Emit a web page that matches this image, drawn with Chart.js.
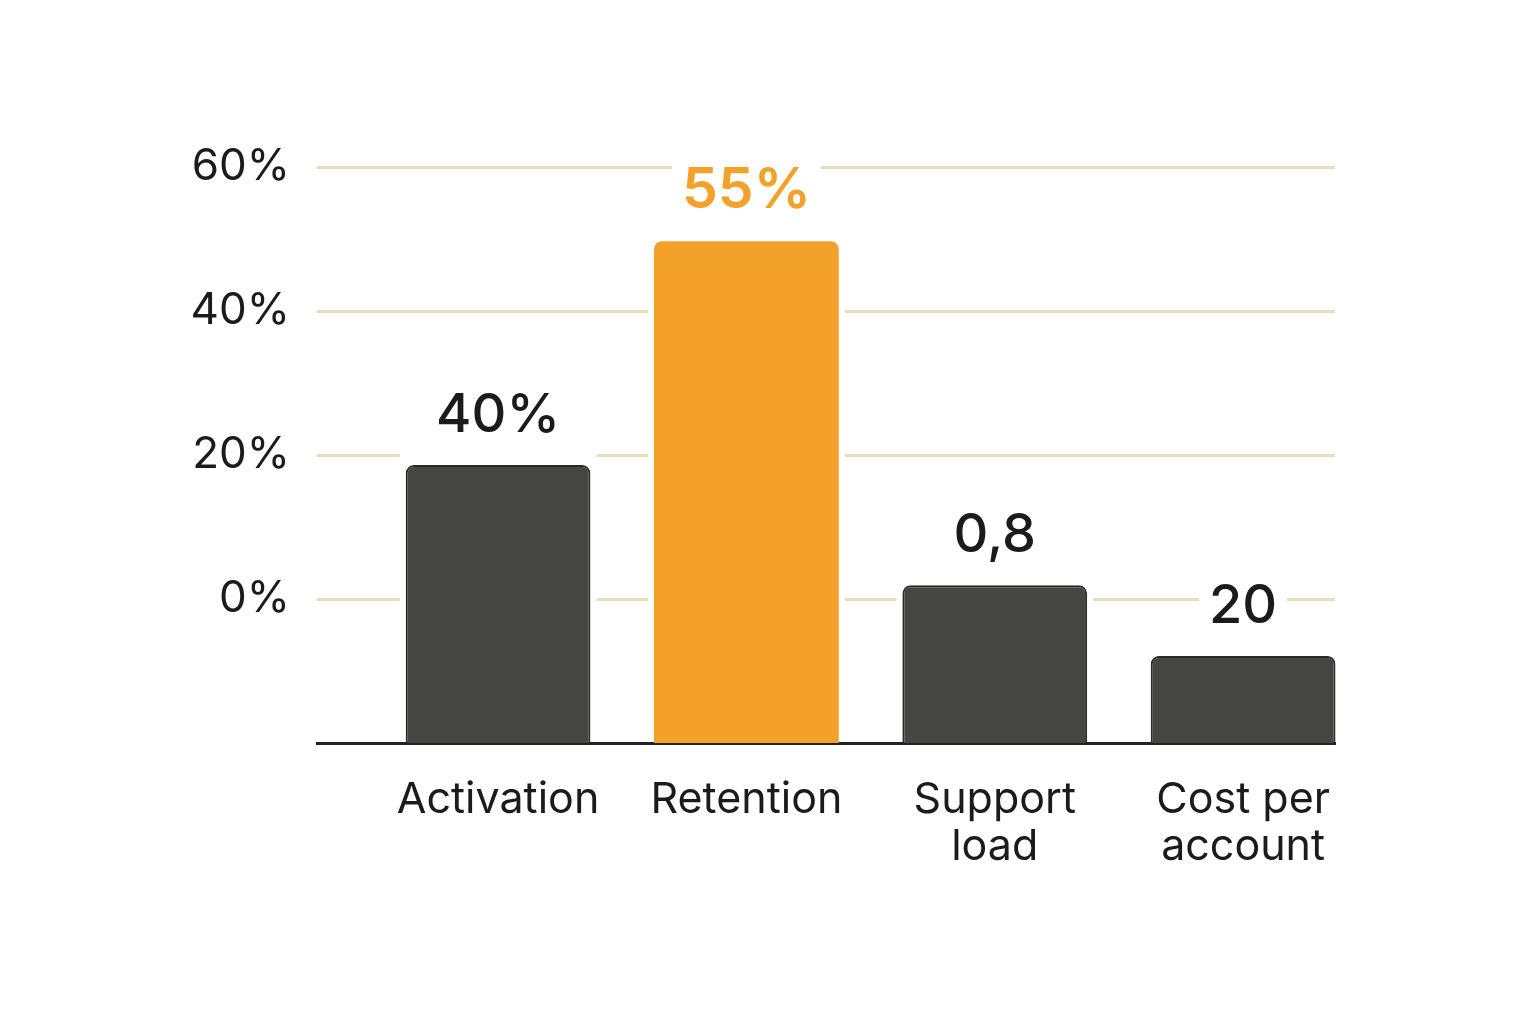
<!DOCTYPE html>
<html>
<head>
<meta charset="utf-8">
<script src="https://cdn.jsdelivr.net/npm/chart.js@4.4.1/dist/chart.umd.min.js"></script>
<style>
  html, body { margin: 0; padding: 0; background: #ffffff; }
  #wrap { width: 1536px; height: 1024px; }
</style>
</head>
<body>
<div id="wrap"><canvas id="kpiChart" width="1536" height="1024"></canvas></div>
<script>
// Dữ liệu
const categories = [['Activation'], ['Retention'], ['Support', 'load'], ['Cost per', 'account']];
const barValues = [18.6, 49.7, 1.9, -7.9];
const valueLabels = ['40%', '55%', '0,8', '20'];
const yTicks = [0, 20, 40, 60];
const highlightIndex = 1;

const DARK = '#454544';
const ORANGE = '#F4A12A';
const TEXT = '#1b1b1b';

Chart.defaults.font.family = 'Inter, "Noto Sans", sans-serif';

// Plugin: khoảng trắng quanh cột + nhãn giá trị trên cột
const barLabels = {
    id: 'barLabels',
    beforeDatasetsDraw(chart) {
        const ctx = chart.ctx;
        ctx.save();
        ctx.fillStyle = '#ffffff';
        chart.getDatasetMeta(0).data.forEach(bar => {
            const w = bar.width;
            ctx.fillRect(bar.x - w / 2 - 6, bar.y - 12, w + 12, bar.base - bar.y + 10);
        });
        ctx.restore();
    },
    afterDatasetsDraw(chart) {
        const ctx = chart.ctx;
        ctx.save();
        ctx.textAlign = 'center';
        ctx.textBaseline = 'alphabetic';
        chart.getDatasetMeta(0).data.forEach((bar, i) => {
            const hot = i === highlightIndex;
            ctx.font = hot ? '600 57px Inter' : '500 54px Inter';
            const text = valueLabels[i];
            const tw = ctx.measureText(text).width;
            const baseY = bar.y - 33;
            ctx.fillStyle = '#ffffff';
            ctx.fillRect(bar.x - tw / 2 - 10, baseY - 48, tw + 20, 58);
            ctx.fillStyle = hot ? ORANGE : TEXT;
            ctx.fillText(text, bar.x, baseY);
        });
        ctx.restore();
    }
};

const ctxKpi = document.getElementById('kpiChart').getContext('2d');
const kpiChart = new Chart(ctxKpi, {
    type: 'bar',
    data: {
        labels: categories,
        datasets: [{
            data: barValues.map((v, i) => ({ x: i, y: v })),
            base: -20,
            clip: false,
            backgroundColor: barValues.map((v, i) => i === highlightIndex ? ORANGE : DARK),
            borderColor: barValues.map((v, i) => i === highlightIndex ? ORANGE : '#2a2a2a'),
            borderWidth: barValues.map((v, i) => i === highlightIndex ? 0 : 2),
            borderSkipped: 'start',
            borderRadius: 8,
            barPercentage: 0.93,
            categoryPercentage: 0.8
        }]
    },
    options: {
        responsive: false,
        animation: false,
        devicePixelRatio: 1,
        layout: { padding: { top: 167, right: 201, left: 0, bottom: 0 } },
        plugins: {
            legend: { display: false },
            tooltip: { enabled: false }
        },
        scales: {
            x: {
                type: 'linear',
                offset: false,
                min: -0.729,
                max: 3.370,
                afterBuildTicks: scale => { scale.ticks = categories.map((c, i) => ({ value: i })); },
                afterFit: scale => { scale.height = 281; },
                grid: { display: false, drawTicks: false },
                border: { display: true, color: '#222222', width: 3 },
                ticks: {
                    color: TEXT,
                    padding: 33,
                    maxRotation: 0,
                    minRotation: 0,
                    autoSkip: false,
                    font: { size: 43, lineHeight: 1.1 },
                    callback: value => categories[value]
                }
            },
            y: {
                min: -20,
                max: 60,
                afterBuildTicks: scale => { scale.ticks = yTicks.map(v => ({ value: v })); },
                afterFit: scale => { scale.width = 317; },
                grid: { color: '#EBDDB8', lineWidth: 3, drawTicks: false },
                border: { display: false },
                ticks: {
                    color: TEXT,
                    padding: 27,
                    font: { size: 44 },
                    callback: value => value + '%'
                }
            }
        }
    },
    plugins: [barLabels]
});
</script>
</body>
</html>
